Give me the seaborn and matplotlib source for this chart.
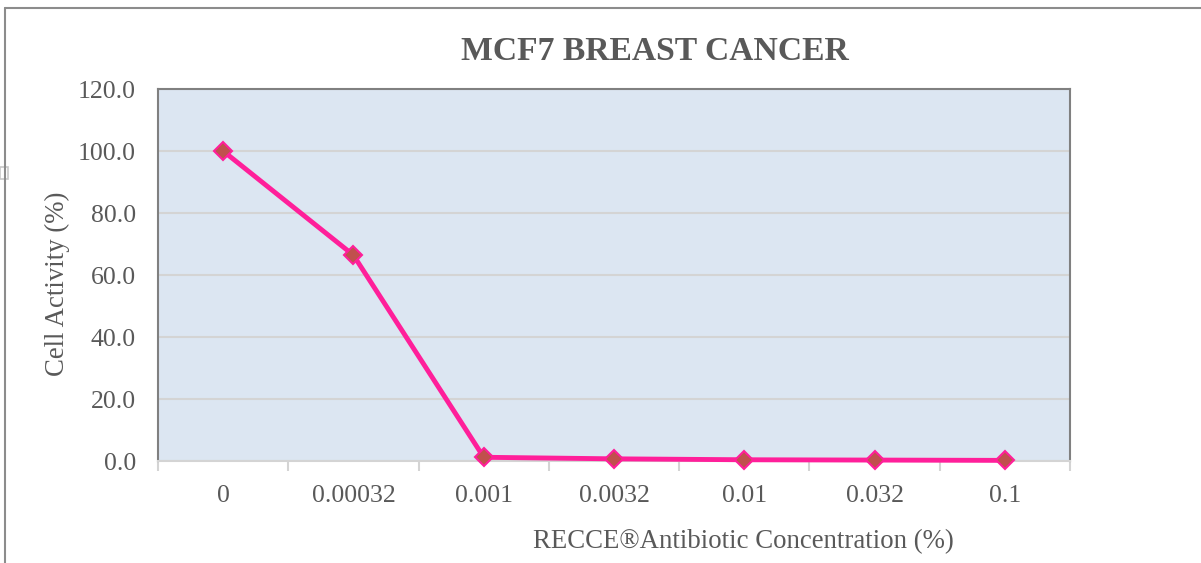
import matplotlib
matplotlib.use("Agg")
import matplotlib.pyplot as plt
import seaborn as sns
import pandas as pd
from matplotlib.lines import Line2D
from matplotlib.patches import Rectangle

concentrations = ["0", "0.00032", "0.001", "0.0032", "0.01", "0.032", "0.1"]
activity = [100.0, 66.4, 1.2, 0.7, 0.4, 0.3, 0.2]
y_ticks = [0, 20, 40, 60, 80, 100, 120]

sns.set_theme(style="white")
plt.rcParams['font.family'] = ['Liberation Serif', 'DejaVu Serif']

W, H = 1201, 563
fig = plt.figure(figsize=(W / 100, H / 100), dpi=100)
ax = fig.add_axes([158 / W, 1 - 461 / H, (1070 - 158) / W, (461 - 89) / H])

df = pd.DataFrame({"conc": concentrations, "act": activity})
sns.lineplot(data=df, x="conc", y="act", sort=False, ax=ax, color="#FF1F9A",
             linewidth=3.5, marker="D", markersize=9, markerfacecolor="#C0504D",
             markeredgecolor="#FF1F9A", markeredgewidth=1.5, clip_on=False, zorder=5)

ax.set_facecolor("#DCE6F2")
ax.set_xlim(-0.5, len(concentrations) - 0.5)
ax.set_ylim(0, 120)
ax.set_yticks(y_ticks)
ax.set_yticklabels([f"{v:.1f}" for v in y_ticks])
ax.yaxis.grid(True, color="#D4D4D4", linewidth=1.5)
ax.set_axisbelow(True)

# category ticks between categories, Excel style
ax.set_xticks(range(len(concentrations)))
ax.set_xticklabels(concentrations)
ax.set_xticks([i - 0.5 for i in range(len(concentrations) + 1)], minor=True)
ax.tick_params(axis="x", which="major", length=0, pad=17, labelsize=18.5, labelcolor="#595959")
ax.tick_params(axis="x", which="minor", length=7, width=1.5, color="#D4D4D4", direction="out", bottom=True)
ax.tick_params(axis="y", length=0, pad=16, labelsize=18.5, labelcolor="#595959")

for s in ["left", "top", "right"]:
    ax.spines[s].set_color("#808080")
    ax.spines[s].set_linewidth(1.5)
    ax.spines[s].set_visible(True)
ax.spines["bottom"].set_color("#D4D4D4")
ax.spines["bottom"].set_linewidth(1.5)
ax.spines["bottom"].set_visible(True)

ax.set_xlabel("")
ax.set_ylabel("")

fig.text(655 / W, 1 - 52 / H, "MCF7 BREAST CANCER", ha="center", va="center",
         fontsize=24.2, fontweight="bold", color="#595959")
fig.text(743 / W, 1 - 542 / H, "RECCE®Antibiotic Concentration (%)", ha="center", va="center",
         fontsize=19.3, color="#595959")
fig.text(57 / W, 1 - 284 / H, "Cell Activity (%)", ha="center", va="center",
         rotation=90, fontsize=19.3, color="#595959")

# outer chart frame (partially cropped)
fig.add_artist(Line2D([5 / W, 5 / W], [0, 1 - 8 / H], color="#8C8C8C", linewidth=1.5))
fig.add_artist(Line2D([5 / W, 1], [1 - 8 / H, 1 - 8 / H], color="#8C8C8C", linewidth=1.5))
fig.add_artist(Rectangle((0, 1 - 179 / H), 8 / W, 12 / H, facecolor="white",
                         edgecolor="#C8C8C8", linewidth=1.2))

fig.savefig("out.png", dpi=100)
